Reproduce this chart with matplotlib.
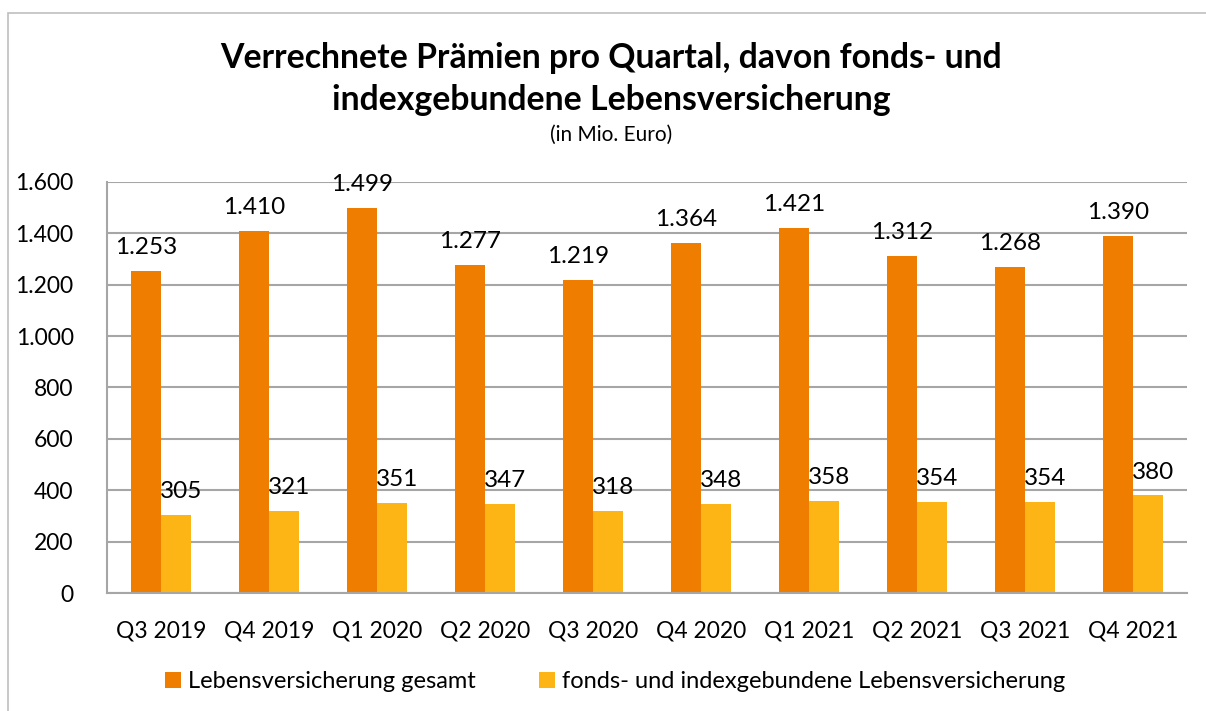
import matplotlib.pyplot as plt
import numpy as np
from matplotlib.patches import Rectangle
from matplotlib.ticker import FuncFormatter

# Daten
quartale = ['Q3 2019', 'Q4 2019', 'Q1 2020', 'Q2 2020', 'Q3 2020',
            'Q4 2020', 'Q1 2021', 'Q2 2021', 'Q3 2021', 'Q4 2021']
gesamt = [1253, 1410, 1499, 1277, 1219, 1364, 1421, 1312, 1268, 1390]
fonds = [305, 321, 351, 347, 318, 348, 358, 354, 354, 380]

orange = '#EF7D00'
gelb = '#FDB515'
grau = '#A6A6A6'

plt.rcParams['font.family'] = ['Lato', 'DejaVu Sans']


def punkt(v, pos=None):
    return f"{int(v):,}".replace(',', '.')


fig = plt.figure(figsize=(12.06, 7.11), dpi=100)
# Rahmen des Diagramms
fig.patches.append(Rectangle((8 / 1206, -0.05), 1.2, 1 - 13 / 711 + 0.05,
                             transform=fig.transFigure, fill=False,
                             edgecolor='#BFBFBF', linewidth=1.2))

ax = fig.add_axes([107 / 1206, 1 - 593 / 711, 1080 / 1206, 411 / 711])

x = np.arange(len(quartale))
w = 0.28
ax.bar(x - w / 2, gesamt, w, color=orange, label='Lebensversicherung gesamt')
ax.bar(x + w / 2, fonds, w, color=gelb, label='fonds- und indexgebundene Lebensversicherung')

for i in range(len(x)):
    ax.text(x[i] - w / 2, gesamt[i] + 50, punkt(gesamt[i]), ha='center', va='bottom', fontsize=17.5)
    ax.text(x[i] + w / 2 + 0.05, fonds[i] + 50, punkt(fonds[i]), ha='center', va='bottom', fontsize=17.5)

ax.set_xlim(-0.5, len(x) - 0.5)
ax.set_ylim(0, 1600)
ax.set_yticks(range(0, 1601, 200))
ax.yaxis.set_major_formatter(FuncFormatter(punkt))
ax.set_xticks(x)
ax.set_xticklabels(quartale)
ax.tick_params(axis='both', length=0, labelsize=16.5)
ax.tick_params(axis='y', pad=24)
ax.tick_params(axis='x', pad=20)
ax.grid(axis='y', color=grau, linewidth=1.5)
ax.set_axisbelow(True)
for s in ['top', 'right']:
    ax.spines[s].set_visible(False)
for s in ['left', 'bottom']:
    ax.spines[s].set_color(grau)
    ax.spines[s].set_linewidth(1.5)

fig.text(0.507, 1 - 58 / 711, 'Verrechnete Prämien pro Quartal, davon fonds- und',
         ha='center', va='center', fontsize=24.3, fontweight='bold')
fig.text(0.507, 1 - 100 / 711, 'indexgebundene Lebensversicherung',
         ha='center', va='center', fontsize=24.3, fontweight='bold')
fig.text(0.507, 1 - 135 / 711, '(in Mio. Euro)', ha='center', va='center', fontsize=15)

fig.legend(loc='center', bbox_to_anchor=(0.51, 1 - 682 / 711), ncol=2, frameon=False,
           fontsize=17, handlelength=0.65, handleheight=0.65, handletextpad=0.3,
           columnspacing=2.7)

plt.savefig('out.png', dpi=100)
plt.close()
